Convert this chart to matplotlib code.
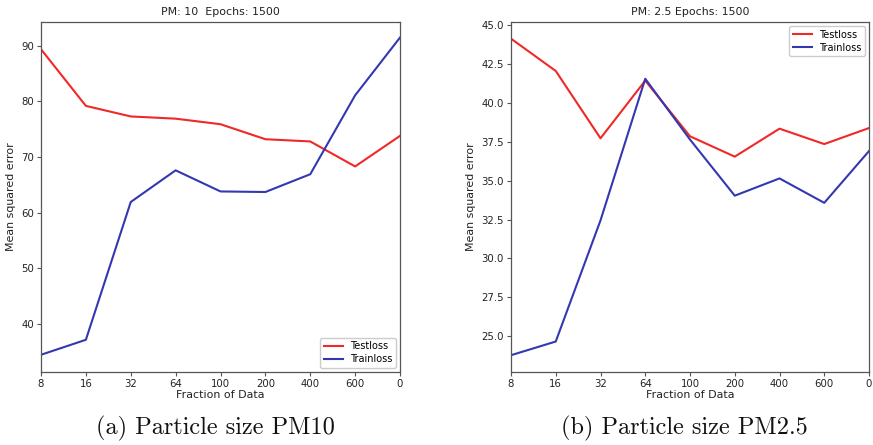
import matplotlib
matplotlib.use("Agg")
import matplotlib.pyplot as plt

fractions = ["8", "16", "32", "64", "100", "200", "400", "600", "0"]

pm10_test = [89.4, 79.2, 77.3, 76.9, 75.9, 73.2, 72.8, 68.3, 73.8]
pm10_train = [34.4, 37.1, 61.9, 67.6, 63.8, 63.7, 66.9, 81.1, 91.5]

pm25_test = [44.14, 42.06, 37.73, 41.44, 37.86, 36.55, 38.35, 37.36, 38.39]
pm25_train = [23.78, 24.66, 32.45, 41.56, 37.65, 34.04, 35.15, 33.58, 36.91]

RED = "#f02828"
BLUE = "#3438b0"
SPINE = "#555555"

fig = plt.figure(figsize=(8.73, 4.45), dpi=100)

panels = [
    dict(rect=[41 / 873, 1 - 372 / 445, 359 / 873, 350 / 445],
         test=pm10_test, train=pm10_train, title="PM: 10  Epochs: 1500",
         ylim=(31.3, 94.3), yticks=[40, 50, 60, 70, 80, 90], yfmt="{:.0f}",
         legend_loc="lower right", caption="(a) Particle size PM10", cap_x=215 / 873),
    dict(rect=[511 / 873, 1 - 372 / 445, 358 / 873, 350 / 445],
         test=pm25_test, train=pm25_train, title="PM: 2.5 Epochs: 1500",
         ylim=(22.7, 45.21), yticks=[25.0, 27.5, 30.0, 32.5, 35.0, 37.5, 40.0, 42.5, 45.0],
         yfmt="{:.1f}", legend_loc="upper right", caption="(b) Particle size PM2.5",
         cap_x=684 / 873),
]

for p in panels:
    ax = fig.add_axes(p["rect"])
    xs = list(range(len(fractions)))
    ax.plot(xs, p["test"], color=RED, lw=1.5, label="Testloss")
    ax.plot(xs, p["train"], color=BLUE, lw=1.5, label="Trainloss")
    ax.set_xlim(0, len(fractions) - 1)
    ax.set_ylim(*p["ylim"])
    ax.set_xticks(xs)
    ax.set_xticklabels(fractions)
    ax.set_yticks(p["yticks"])
    ax.set_yticklabels([p["yfmt"].format(v) for v in p["yticks"]])
    ax.tick_params(labelsize=7.3, length=3, color=SPINE, pad=2, labelcolor="#222222")
    for s in ax.spines.values():
        s.set_color(SPINE)
        s.set_linewidth(0.9)
    ax.set_title(p["title"], fontsize=7.9, pad=5, color="#222222")
    ax.set_xlabel("Fraction of Data", fontsize=7.9, labelpad=1, color="#222222")
    ax.set_ylabel("Mean squared error", fontsize=7.9, labelpad=4, color="#222222")
    ax.legend(loc=p["legend_loc"], fontsize=7.0, handlelength=2.0, framealpha=1,
              edgecolor="#cccccc", borderpad=0.35, labelspacing=0.3, handletextpad=0.7,
              borderaxespad=0.45)
    fig.text(p["cap_x"], 1 - 428 / 445, p["caption"], fontsize=17.5,
             family="cmr10", ha="center", va="center", color="#111111")

fig.savefig("out.png", dpi=100)
